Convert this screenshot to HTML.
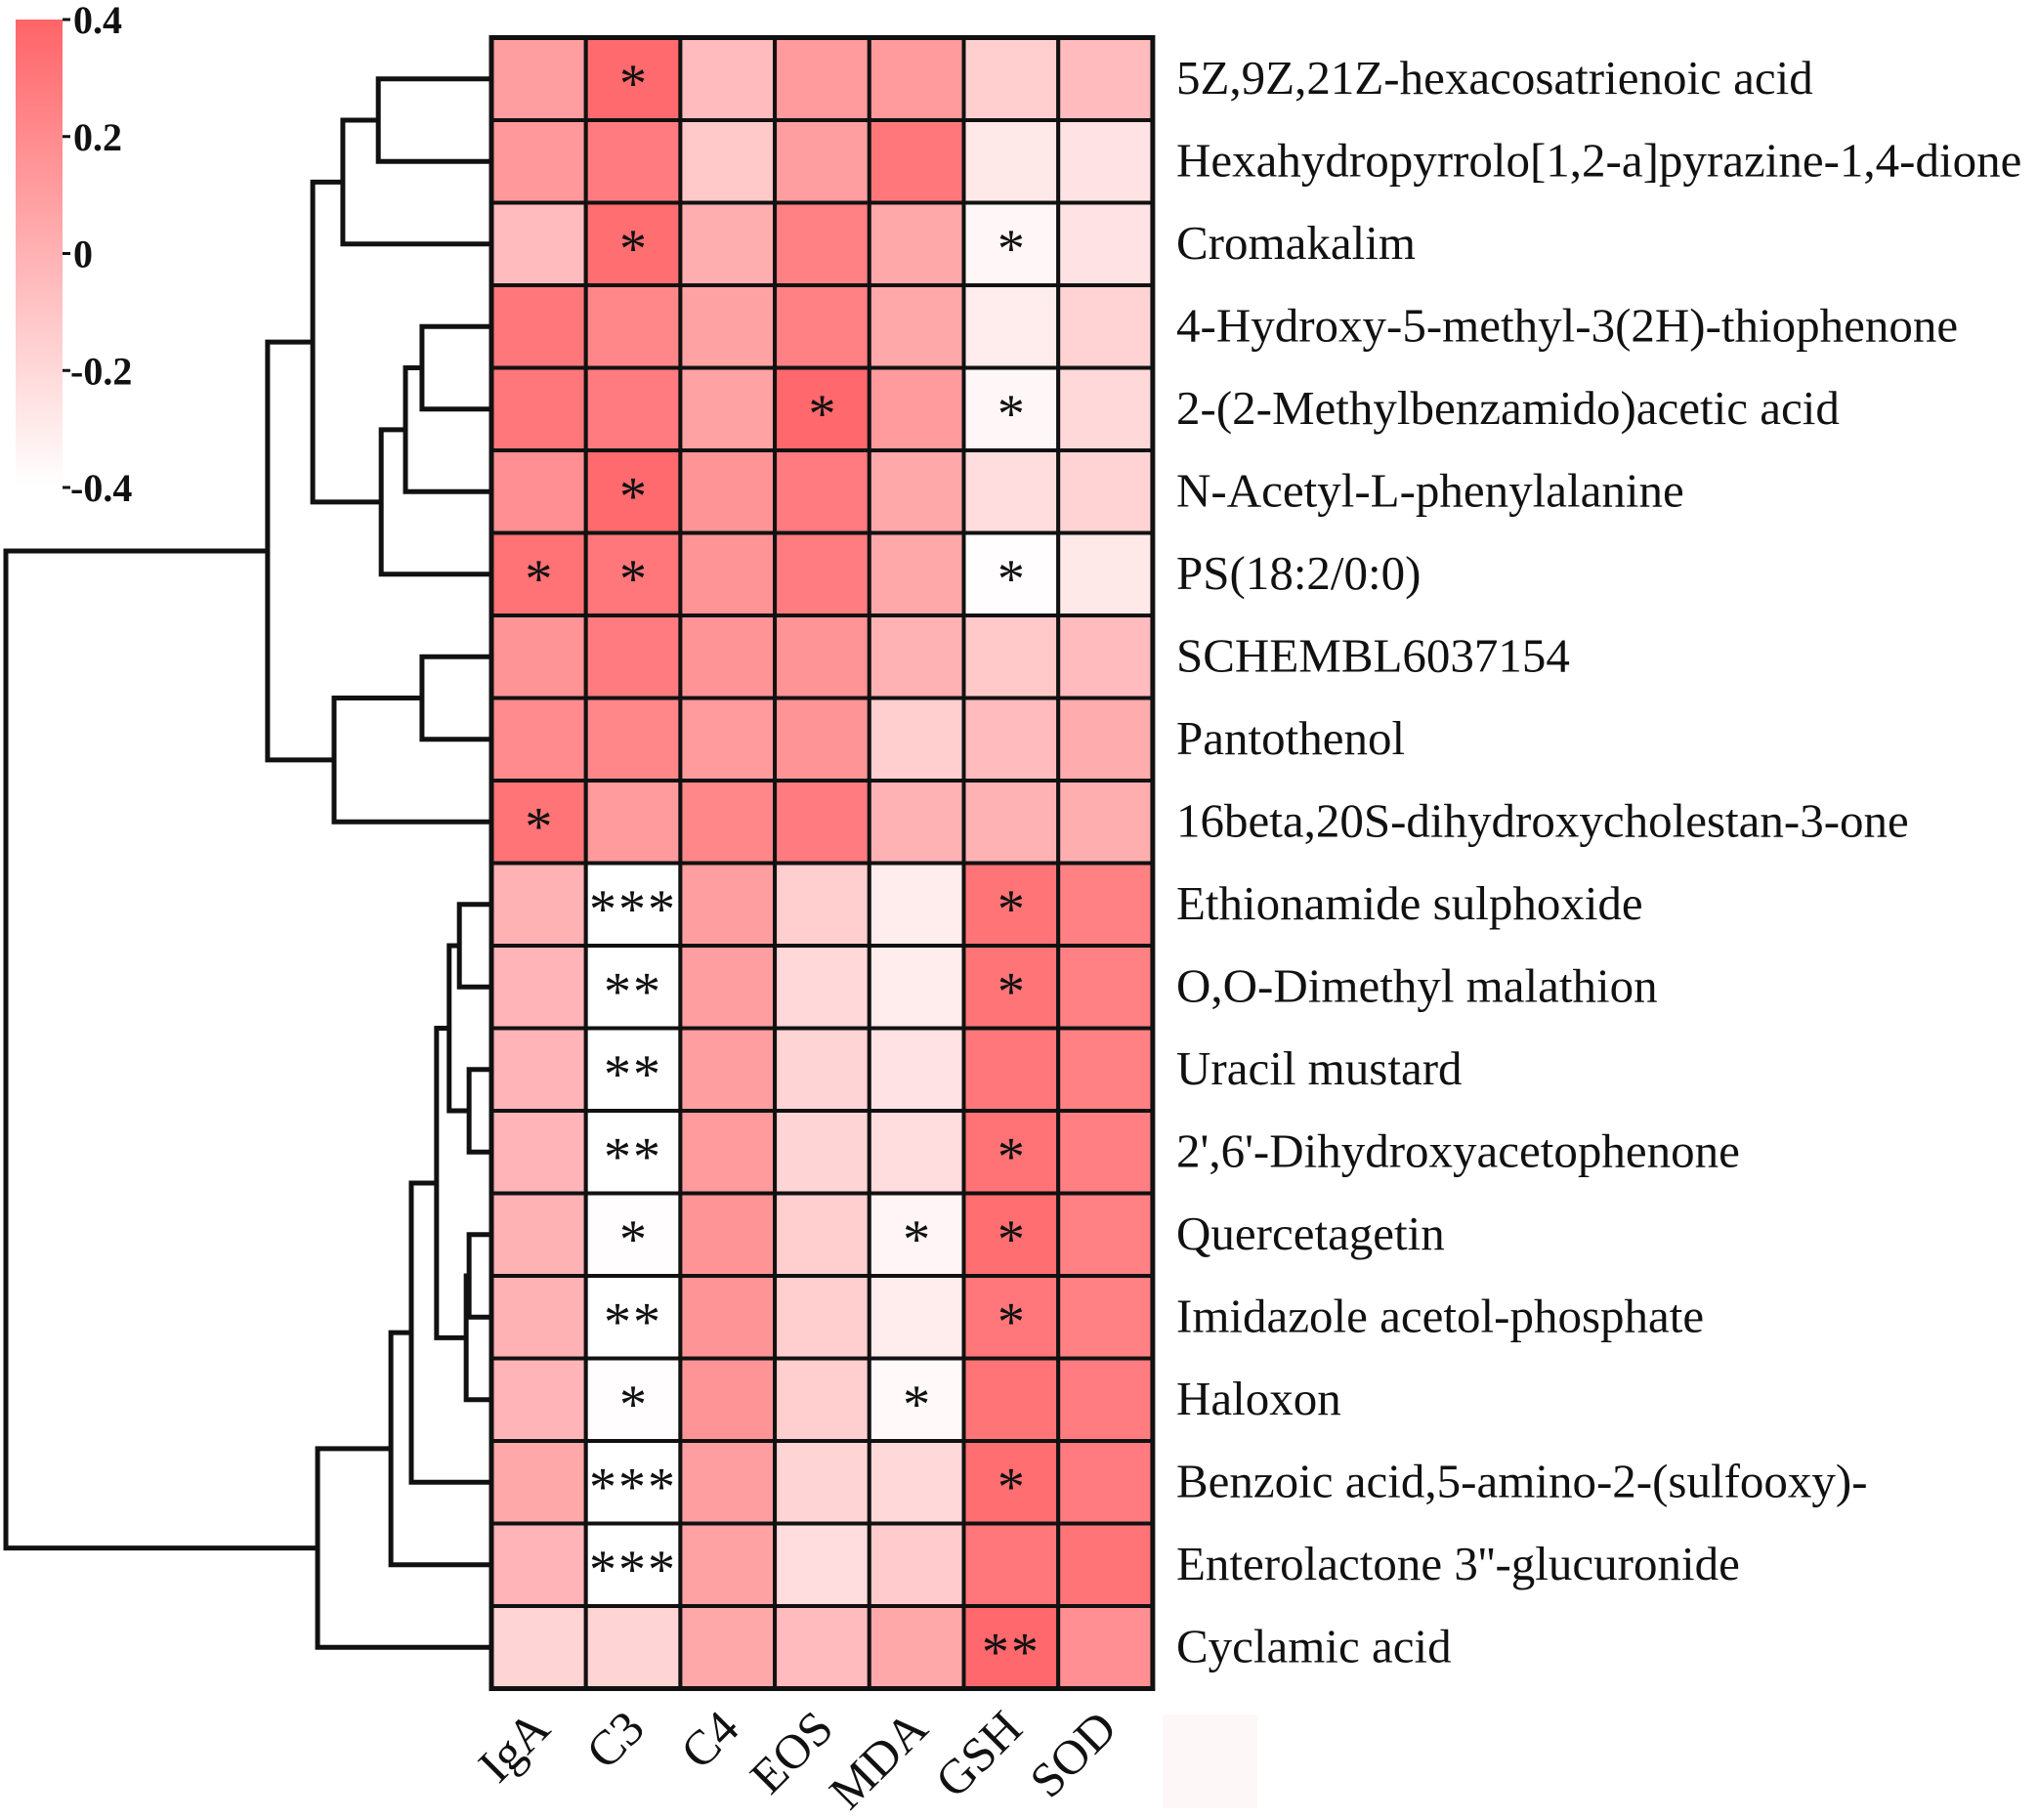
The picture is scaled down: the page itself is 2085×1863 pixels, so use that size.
<!DOCTYPE html>
<html><head><meta charset="utf-8"><style>
html,body{margin:0;padding:0;background:#fff;}
svg{display:block;font-family:"Liberation Serif",serif;}
</style></head><body>
<svg id="chart" width="2085" height="1863" viewBox="0 0 2085 1863" xmlns="http://www.w3.org/2000/svg">
<defs><linearGradient id="cbgrad" x1="0" y1="1" x2="0" y2="0"><stop offset="0" stop-color="#ffffff"/><stop offset="1" stop-color="#ff6468"/></linearGradient></defs>
<g id="colorbar"></g>
<g id="dendro"></g>
<g id="cells"></g>
<g id="rowlabels"></g>
<g id="collabels"></g>
<rect x="1190" y="1755" width="97" height="96" fill="#fdf8f7"/>
</svg>
<script>
const rows = ["5Z,9Z,21Z-hexacosatrienoic acid","Hexahydropyrrolo[1,2-a]pyrazine-1,4-dione","Cromakalim","4-Hydroxy-5-methyl-3(2H)-thiophenone","2-(2-Methylbenzamido)acetic acid","N-Acetyl-L-phenylalanine","PS(18:2/0:0)","SCHEMBL6037154","Pantothenol","16beta,20S-dihydroxycholestan-3-one","Ethionamide sulphoxide","O,O-Dimethyl malathion","Uracil mustard","2',6'-Dihydroxyacetophenone","Quercetagetin","Imidazole acetol-phosphate","Haloxon","Benzoic acid,5-amino-2-(sulfooxy)-","Enterolactone 3''-glucuronide","Cyclamic acid"];
const cols = ["IgA","C3","C4","EOS","MDA","GSH","SOD"];
const values = [
[0.10,0.37,-0.05,0.12,0.12,-0.15,-0.05],
[0.13,0.28,-0.12,0.10,0.30,-0.28,-0.25],
[-0.05,0.35,0.02,0.25,0.05,-0.36,-0.25],
[0.30,0.22,0.08,0.25,0.05,-0.30,-0.17],
[0.30,0.28,0.08,0.38,0.12,-0.36,-0.20],
[0.18,0.37,0.15,0.28,0.05,-0.22,-0.17],
[0.33,0.30,0.15,0.27,0.05,-0.39,-0.28],
[0.15,0.28,0.15,0.15,0.00,-0.12,-0.05],
[0.20,0.22,0.12,0.15,-0.15,-0.05,0.03],
[0.32,0.12,0.22,0.28,0.00,0.00,0.02],
[0.00,-0.40,0.10,-0.15,-0.30,0.32,0.25],
[-0.02,-0.40,0.10,-0.20,-0.30,0.32,0.25],
[-0.02,-0.40,0.10,-0.18,-0.25,0.30,0.25],
[-0.02,-0.40,0.12,-0.18,-0.22,0.33,0.26],
[0.00,-0.39,0.15,-0.15,-0.35,0.35,0.25],
[0.00,-0.40,0.15,-0.15,-0.30,0.30,0.25],
[-0.02,-0.39,0.15,-0.15,-0.37,0.32,0.27],
[0.05,-0.40,0.10,-0.18,-0.20,0.35,0.28],
[-0.02,-0.40,0.08,-0.22,-0.13,0.30,0.32],
[-0.18,-0.18,0.05,-0.05,0.05,0.38,0.18]];
const stars = [
["","*","","","","",""],["","","","","","",""],["","*","","","","*",""],["","","","","","",""],
["","","","*","","*",""],["","*","","","","",""],["*","*","","","","*",""],["","","","","","",""],
["","","","","","",""],["*","","","","","",""],["","***","","","","*",""],["","**","","","","*",""],
["","**","","","","",""],["","**","","","","*",""],["","*","","","*","*",""],["","**","","","","*",""],
["","*","","","*","",""],["","***","","","","*",""],["","***","","","","",""],["","","","","","**",""]];
const cbTicks = [0.4,0.2,0,-0.2,-0.4];
// dendrogram merges: [left node, right node, merge height]; leaves are row indices, internal nodes "n#"
const merges = [
[0,1,0.233],["n0",2,0.306],[3,4,0.143],["n2",5,0.177],["n3",6,0.227],["n1","n4",0.368],
[7,8,0.143],["n6",9,0.324],["n5","n7",0.461],
[10,11,0.066],[12,13,0.046],["n9","n10",0.087],[14,15,0.046],["n12",16,0.052],["n11","n13",0.113],
["n14",17,0.165],["n15",18,0.207],["n16",19,0.358],["n8","n17",1.0]];

const NS="http://www.w3.org/2000/svg";
const gx0=503, gy0=38.5, cw=96.7, rh=84.5;
const xC = c => gx0 + c*cw;
const yR = r => gy0 + r*rh;
const dx = h => 503 - h*(503-6);
function colorOf(v){const t=Math.max(0,Math.min(1,(v+0.4)/0.8));
 const g=Math.round(255-t*(255-100)), b=Math.round(255-t*(255-104));return `rgb(255,${g},${b})`;}
function mk(tag,attrs,parent){const e=document.createElementNS(NS,tag);for(const k in attrs)e.setAttribute(k,attrs[k]);parent.appendChild(e);return e;}

// cells
const gc=document.getElementById('cells');
values.forEach((row,r)=>row.forEach((v,c)=>{
 const e=mk('rect',{x:xC(c),y:yR(r),width:cw,height:rh,fill:colorOf(v),stroke:'#111','stroke-width':4},gc);
 
 
 const s=stars[r][c];
 if(s){const t=mk('text',{x:xC(c)+cw/2,y:yR(r)+rh/2+23,'text-anchor':'middle','font-size':56,'letter-spacing':s.length>1?2:0,fill:'#111'},gc);
  t.textContent=s;
  
  }
}));
mk('rect',{x:gx0,y:gy0,width:cw*7,height:rh*20,fill:'none',stroke:'#111','stroke-width':5},gc);

// row labels
const gr=document.getElementById('rowlabels');
rows.forEach((n,r)=>{const t=mk('text',{x:1204,y:yR(r)+rh/2+15,'font-size':49,fill:'#111'},gr);t.textContent=n;
 
 });

// column labels
const gl=document.getElementById('collabels');
cols.forEach((n,c)=>{const ax=xC(c)+cw/2+14, ay=1772;
 const t=mk('text',{x:ax,y:ay,'font-size':50,'text-anchor':'end',fill:'#111',transform:`rotate(-45 ${ax} ${ay})`},gl);t.textContent=n;
 
 });

// colorbar
const gb=document.getElementById('colorbar');
mk('rect',{x:16,y:20,width:48,height:479,fill:'url(#cbgrad)'},gb);
const cbY = v => 20 + (0.4-v)/0.8*(499-20);
cbTicks.forEach(v=>{const y=cbY(v);
 mk('line',{x1:64,y1:y,x2:72,y2:y,stroke:'#111','stroke-width':3},gb);
 const t=mk('text',{x:v<0?72:75,y:y+14,'font-size':40,'font-weight':'bold',fill:'#111'},gb);
 t.textContent=(v<0?'-':'')+(v===0?'0':Math.abs(v).toFixed(1));
 
 });

// dendrogram
const gd=document.getElementById('dendro');
const nodes={};
rows.forEach((_,r)=>nodes[r]={y:yR(r)+rh/2,x:503});
merges.forEach((m,i)=>{const a=nodes[m[0]],b=nodes[m[1]],x=dx(m[2]);
 const p=mk('path',{d:`M${a.x} ${a.y}H${x}V${b.y}H${b.x}`,fill:'none',stroke:'#111','stroke-width':5},gd);
 
 
 nodes['n'+i]={x:x,y:(a.y+b.y)/2};});
</script>
</body></html>
